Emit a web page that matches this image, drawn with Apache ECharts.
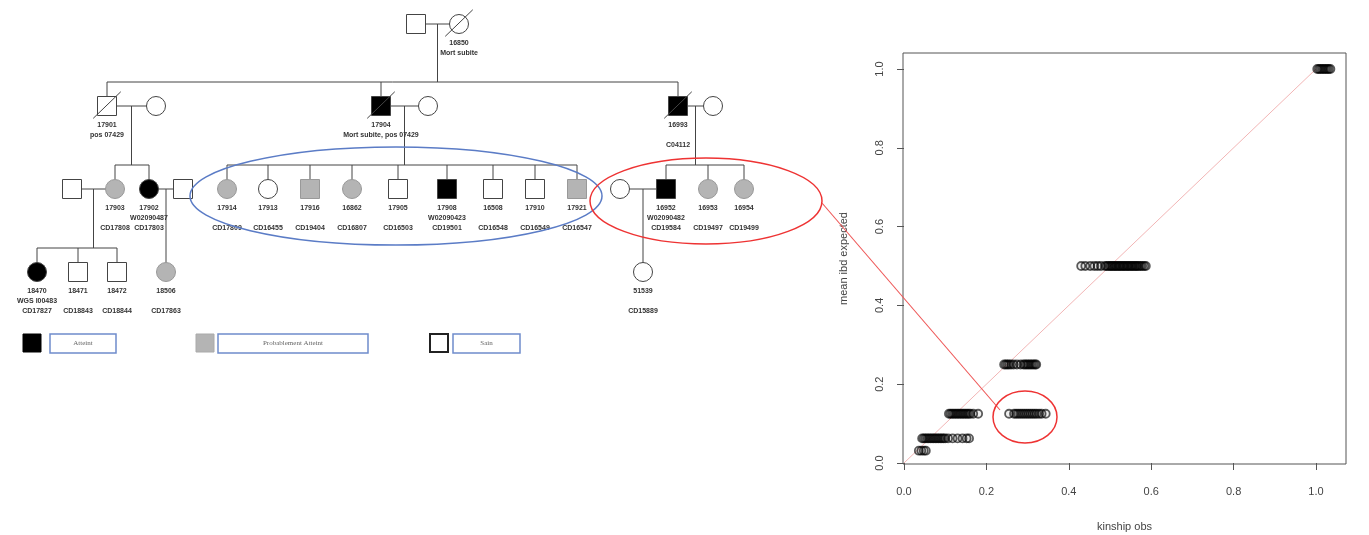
<!DOCTYPE html>
<html><head><meta charset="utf-8">
<script src="https://cdn.jsdelivr.net/npm/echarts@6/dist/echarts.min.js"></script>
<style>html,body{margin:0;padding:0;background:#fff}#c{width:1369px;height:535px}</style>
</head><body><div id="c"></div>
<script>
// ---------------- scatter data: kinship obs (x) at each mean ibd expected level (y) ----------------
const axisTicks = [0.0, 0.2, 0.4, 0.6, 0.8, 1.0];
const kinship_100 = [1.003,1.007,1.011,1.015,1.019,1.023,1.027,1.031,1.035];
const kinship_050 = [0.43,0.44,0.452,0.462,0.47,0.478,0.488,0.492,0.496,0.5,0.503,0.506,0.51,0.513,0.516,0.52,0.523,0.526,0.53,0.533,0.536,0.54,0.543,0.546,0.55,0.553,0.556,0.56,0.563,0.566,0.57,0.574,0.578,0.583,0.587];
const kinship_025 = [0.243,0.247,0.251,0.255,0.26,0.266,0.274,0.283,0.29,0.294,0.298,0.302,0.306,0.31,0.314,0.318,0.321];
const kinship_0125a = [0.109,0.113,0.117,0.121,0.125,0.129,0.133,0.137,0.141,0.145,0.149,0.153,0.157,0.161,0.168,0.18];
const kinship_0125b = [0.255,0.267,0.272,0.277,0.282,0.287,0.292,0.297,0.302,0.307,0.312,0.317,0.322,0.328,0.334,0.344];
const kinship_00625 = [0.044,0.048,0.052,0.056,0.06,0.064,0.068,0.072,0.076,0.08,0.084,0.088,0.092,0.096,0.1,0.107,0.118,0.13,0.142,0.152,0.158];
const kinship_003125 = [0.036,0.042,0.048,0.053];
const ibdGroups = [
  [1.0, kinship_100], [0.5, kinship_050], [0.25, kinship_025],
  [0.125, kinship_0125a], [0.125, kinship_0125b], [0.0625, kinship_00625], [0.03125, kinship_003125]
];
const identityLine = [[0, 0], [1, 1]];

// ---------------- pedigree data ----------------
const rowY = [24, 106, 189, 272];
// key, generation, x, sex, status (A affected / P probably affected / H healthy), deceased, labels
const people = [
  ['g1m', 0, 416, 'M', 'H', 0, []],
  ['16850', 0, 459, 'F', 'H', 1, ['16850', 'Mort subite']],
  ['17901', 1, 107, 'M', 'H', 1, ['17901', 'pos 07429']],
  ['w17901', 1, 156, 'F', 'H', 0, []],
  ['17904', 1, 381, 'M', 'A', 1, ['17904', 'Mort subite, pos 07429']],
  ['w17904', 1, 428, 'F', 'H', 0, []],
  ['16993', 1, 678, 'M', 'A', 1, ['16993', '', 'C04112']],
  ['w16993', 1, 713, 'F', 'H', 0, []],
  ['h17903', 2, 72, 'M', 'H', 0, []],
  ['17903', 2, 115, 'F', 'P', 0, ['17903', '', 'CD17808']],
  ['17902', 2, 149, 'F', 'A', 0, ['17902', 'W02090487', 'CD17803']],
  ['h17902', 2, 183, 'M', 'H', 0, []],
  ['17914', 2, 227, 'F', 'P', 0, ['17914', '', 'CD17809']],
  ['17913', 2, 268, 'F', 'H', 0, ['17913', '', 'CD16455']],
  ['17916', 2, 310, 'M', 'P', 0, ['17916', '', 'CD19404']],
  ['16862', 2, 352, 'F', 'P', 0, ['16862', '', 'CD16807']],
  ['17905', 2, 398, 'M', 'H', 0, ['17905', '', 'CD16503']],
  ['17908', 2, 447, 'M', 'A', 0, ['17908', 'W02090423', 'CD19501']],
  ['16508', 2, 493, 'M', 'H', 0, ['16508', '', 'CD16548']],
  ['17910', 2, 535, 'M', 'H', 0, ['17910', '', 'CD16549']],
  ['17921', 2, 577, 'M', 'P', 0, ['17921', '', 'CD16547']],
  ['w16952', 2, 620, 'F', 'H', 0, []],
  ['16952', 2, 666, 'M', 'A', 0, ['16952', 'W02090482', 'CD19584']],
  ['16953', 2, 708, 'F', 'P', 0, ['16953', '', 'CD19497']],
  ['16954', 2, 744, 'F', 'P', 0, ['16954', '', 'CD19499']],
  ['18470', 3, 37, 'F', 'A', 0, ['18470', 'WGS I00483', 'CD17827']],
  ['18471', 3, 78, 'M', 'H', 0, ['18471', '', 'CD18843']],
  ['18472', 3, 117, 'M', 'H', 0, ['18472', '', 'CD18844']],
  ['18506', 3, 166, 'F', 'P', 0, ['18506', '', 'CD17863']],
  ['51539', 3, 643, 'F', 'H', 0, ['51539', '', 'CD15889']]
];
// parent1, parent2, children
const families = [
  ['g1m', '16850', ['17901', '17904', '16993']],
  ['17901', 'w17901', ['17903', '17902']],
  ['17904', 'w17904', ['17914', '17913', '17916', '16862', '17905', '17908', '16508', '17910', '17921']],
  ['16993', 'w16993', ['16952', '16953', '16954']],
  ['h17903', '17903', ['18470', '18471', '18472']],
  ['17902', 'h17902', ['18506']],
  ['w16952', '16952', ['51539']]
];
const legendLabels = ['Atteint', 'Probablement Atteint', 'Sain'];
const legendStatus = ['A', 'P', 'H'];

// ---------------- build ----------------
const byKey = {};
people.forEach(p => byKey[p[0]] = p);
const SYM = 19;
const segments = [];
families.forEach(f => {
  const a = byKey[f[0]], b = byKey[f[1]];
  const y = rowY[a[1]];
  segments.push([a[2], y, b[2], y]);
  const mid = (a[2] + b[2]) / 2;
  const kids = f[2].map(k => byKey[k]);
  const cy = rowY[kids[0][1]];
  if (kids.length === 1) {
    segments.push([mid, y, mid, cy]);
  } else {
    const sibY = cy - 24;
    segments.push([mid, y, mid, sibY]);
    const xs = kids.map(k => k[2]);
    segments.push([Math.min(...xs, mid), sibY, Math.max(...xs, mid), sibY]);
    kids.forEach(k => segments.push([k[2], sibY, k[2], cy]));
  }
});
const fillOf = s => s === 'A' ? '#000' : (s === 'P' ? '#b4b4b4' : '#fff');
const strokeOf = s => s === 'P' ? '#999' : '#444';

function renderSeg(params, api) {
  const s = segments[params.dataIndex];
  const p1 = api.coord([s[0], s[1]]), p2 = api.coord([s[2], s[3]]);
  return { type: 'line', shape: { x1: p1[0], y1: p1[1], x2: p2[0], y2: p2[1] },
    style: { stroke: '#444', lineWidth: 1 } };
}
function renderPerson(params, api) {
  const p = people[params.dataIndex];
  const c = api.coord([p[2], rowY[p[1]]]);
  const r = SYM / 2;
  const kids = [];
  const st = { fill: fillOf(p[4]), stroke: strokeOf(p[4]), lineWidth: 1 };
  if (p[3] === 'M') kids.push({ type: 'rect', shape: { x: c[0] - r, y: c[1] - r, width: SYM, height: SYM }, style: st });
  else kids.push({ type: 'circle', shape: { cx: c[0], cy: c[1], r: r }, style: st });
  if (p[5]) kids.push({ type: 'line', shape: { x1: c[0] - r * 1.45, y1: c[1] + r * 1.3, x2: c[0] + r * 1.45, y2: c[1] - r * 1.5 },
    style: { stroke: '#444', lineWidth: 1 } });
  p[6].forEach((t, i) => {
    if (!t) return;
    kids.push({ type: 'text', style: { text: t, x: c[0], y: c[1] + 19 + 10 * i, align: 'center', verticalAlign: 'middle',
      textAlign: 'center', textVerticalAlign: 'middle', font: 'bold 7px "Liberation Sans", Arial, sans-serif', fill: '#333' } });
  });
  return { type: 'group', children: kids };
}

const scatterSeries = ibdGroups.map(g => ({
  type: 'scatter', xAxisIndex: 1, yAxisIndex: 1, clip: false, symbol: 'circle', symbolSize: 8,
  data: g[1].map(x => [x, g[0]]),
  itemStyle: { color: 'rgba(0,0,0,0.08)', borderColor: 'rgba(0,0,0,0.8)', borderWidth: 1.8 },
  silent: true, z: 3
}));

// legend graphic
const legendSymX = [32, 205, 439];
const legendBox = [[50, 66], [218, 150], [453, 67]];
const graphics = [];
legendStatus.forEach((s, i) => {
  graphics.push({ type: 'rect', shape: { x: legendSymX[i] - 9, y: 334, width: 18, height: 18 },
    style: { fill: fillOf(s), stroke: s === 'H' ? '#222' : (s === 'P' ? '#aaa' : '#000'), lineWidth: s === 'H' ? 2 : 1 } });
  graphics.push({ type: 'rect', shape: { x: legendBox[i][0], y: 334, width: legendBox[i][1], height: 19 },
    style: { fill: '#fff', stroke: '#6f8ccc', lineWidth: 1.5 } });
  graphics.push({ type: 'text', x: legendBox[i][0] + legendBox[i][1] / 2, y: 343.5,
    style: { text: legendLabels[i], align: 'center', verticalAlign: 'middle', font: '7px "Liberation Serif", serif', fill: '#666' } });
});
// annotations
graphics.push({ type: 'ellipse', shape: { cx: 396, cy: 196, rx: 206, ry: 49 }, style: { fill: 'none', stroke: '#5b7cc6', lineWidth: 1.5 } });
graphics.push({ type: 'ellipse', shape: { cx: 706, cy: 201, rx: 116, ry: 43 }, style: { fill: 'none', stroke: '#e33', lineWidth: 1.5 } });
graphics.push({ type: 'line', shape: { x1: 822, y1: 203, x2: 1000, y2: 410 }, style: { stroke: '#e55', lineWidth: 1.1 } });
graphics.push({ type: 'ellipse', shape: { cx: 1025, cy: 417, rx: 32, ry: 26 }, style: { fill: 'none', stroke: '#e33', lineWidth: 1.5 } });
graphics.forEach(g => g.z = 100);

const fmt = v => v.toFixed(1);
const chart = echarts.init(document.getElementById('c'), null, { renderer: 'canvas' });
chart.setOption({
  animation: false,
  backgroundColor: '#fff',
  grid: [
    { left: 0, top: 0, width: 830, height: 535, outerBoundsMode: 'none', containLabel: false },
    { left: 904, top: 69, width: 412, height: 394, outerBoundsMode: 'none', containLabel: false },
    { left: 903, top: 53, width: 443, height: 411, outerBoundsMode: 'none', containLabel: false,
      show: true, borderColor: '#555', borderWidth: 1, backgroundColor: 'rgba(0,0,0,0)' }
  ],
  xAxis: [
    { gridIndex: 0, type: 'value', min: 0, max: 830, show: false },
    { gridIndex: 1, type: 'value', min: 0, max: 1, interval: 0.2,
      axisLine: { show: false }, splitLine: { show: false },
      axisTick: { show: true, length: 7, lineStyle: { color: '#555' } },
      axisLabel: { margin: 23, formatter: fmt, color: '#444', fontSize: 11, fontFamily: '"Liberation Sans", Arial' } },
    { gridIndex: 2, type: 'value', min: 0, max: 1, axisLine: { show: false }, axisTick: { show: false },
      axisLabel: { show: false }, splitLine: { show: false },
      name: 'kinship obs', nameLocation: 'middle', nameGap: 57,
      nameTextStyle: { color: '#444', fontSize: 11, fontFamily: '"Liberation Sans", Arial' } }
  ],
  yAxis: [
    { gridIndex: 0, type: 'value', min: 0, max: 535, inverse: true, show: false },
    { gridIndex: 1, type: 'value', min: 0, max: 1, interval: 0.2,
      axisLine: { show: false }, splitLine: { show: false },
      axisTick: { show: true, length: 7, lineStyle: { color: '#555' } },
      axisLabel: { margin: 19, rotate: 90, formatter: fmt, color: '#444', fontSize: 11, fontFamily: '"Liberation Sans", Arial' } },
    { gridIndex: 2, type: 'value', min: 0, max: 1, axisLine: { show: false }, axisTick: { show: false },
      axisLabel: { show: false }, splitLine: { show: false },
      name: 'mean ibd expected', nameLocation: 'middle', nameGap: 54,
      nameTextStyle: { color: '#444', fontSize: 11, fontFamily: '"Liberation Sans", Arial' } }
  ],
  series: [
    { type: 'custom', xAxisIndex: 0, yAxisIndex: 0, data: segments.map((s, i) => i), renderItem: renderSeg, silent: true, z: 1 },
    { type: 'custom', xAxisIndex: 0, yAxisIndex: 0, data: people.map((p, i) => i), renderItem: renderPerson, silent: true, z: 2 },
    { type: 'line', xAxisIndex: 1, yAxisIndex: 1, data: identityLine, symbol: 'none', silent: true, z: 2,
      lineStyle: { color: '#f2b5b5', width: 1 } },
    ...scatterSeries
  ],
  graphic: graphics
});
</script></body></html>
